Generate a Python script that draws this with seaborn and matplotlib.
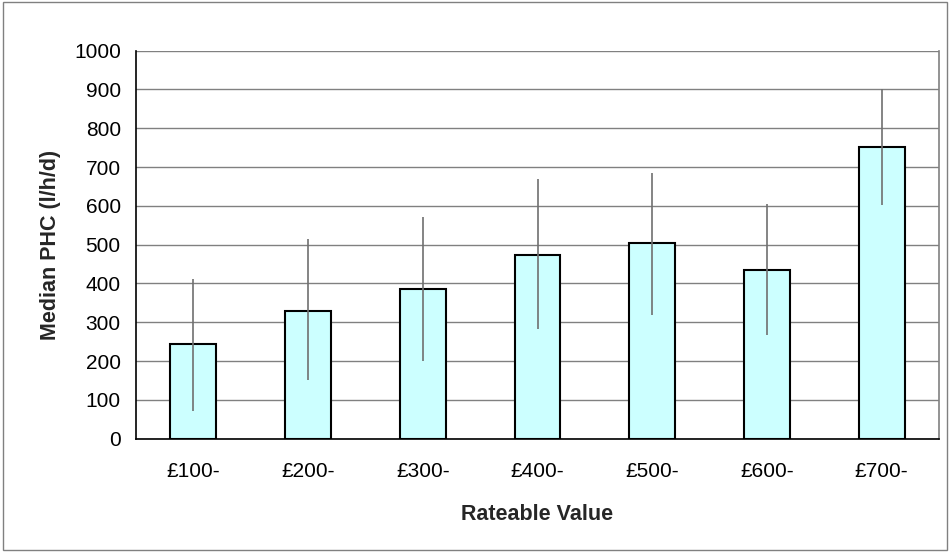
import matplotlib
matplotlib.use("Agg")
import pandas as pd
import seaborn as sns
import matplotlib.pyplot as plt
from matplotlib.patches import Rectangle

# values
bands = ["£100-", "£200-", "£300-", "£400-", "£500-", "£600-", "£700-"]
median_phc = [243, 329, 387, 473, 505, 434, 753]
range_low = [71, 150, 200, 283, 319, 267, 603]
range_high = [412, 515, 572, 670, 686, 604, 902]

df = pd.DataFrame({"band": bands, "phc": median_phc})

sns.set_theme(style="white")
plt.rcParams["font.family"] = ["Liberation Sans", "DejaVu Sans"]

fig = plt.figure(figsize=(9.5, 5.52), dpi=100)
ax = fig.add_axes([0.1432, 0.2053, 0.8452, 0.7029])

# grid first so bars sit on top
ax.set_axisbelow(True)
ax.yaxis.grid(True, color="#808080", linewidth=1)

sns.barplot(data=df, x="band", y="phc", color="#CCFFFF", saturation=1,
            edgecolor="black", linewidth=1.5, width=0.4, ax=ax, zorder=2)

# min/max range lines through each bar
for i in range(len(bands)):
    ax.vlines(i, range_low[i], range_high[i], color="#707070", linewidth=1.2, zorder=3)

ax.set_xlim(-0.5, len(bands) - 0.5)
ax.set_ylim(0, 1000)
ax.set_yticks(range(0, 1001, 100))

# ticks between categories, like the original
ax.set_xticks([i - 0.5 for i in range(len(bands) + 1)], minor=True)
ax.tick_params(axis="x", which="major", length=0, pad=17, labelsize=15)
ax.tick_params(axis="x", which="minor", length=5, width=1, color="black", direction="inout")
ax.tick_params(axis="y", length=5, width=1, color="black", direction="out", labelsize=15, pad=6)
ax.tick_params(axis="both", colors="black")

for side in ["left", "bottom"]:
    ax.spines[side].set_color("black")
    ax.spines[side].set_linewidth(1.2)
ax.spines["right"].set_color("#808080")
ax.spines["right"].set_linewidth(1.2)
ax.spines["top"].set_visible(False)

ax.set_xlabel("Rateable Value", fontsize=15.5, fontweight="bold", labelpad=16)
ax.set_ylabel("Median PHC (l/h/d)", fontsize=15.5, fontweight="bold", labelpad=9)

# outer chart frame
fig.patches.append(Rectangle((0.003, 0.004), 0.994, 0.992, transform=fig.transFigure,
                             fill=False, edgecolor="#808080", linewidth=1))

fig.savefig("out.png", dpi=100)
